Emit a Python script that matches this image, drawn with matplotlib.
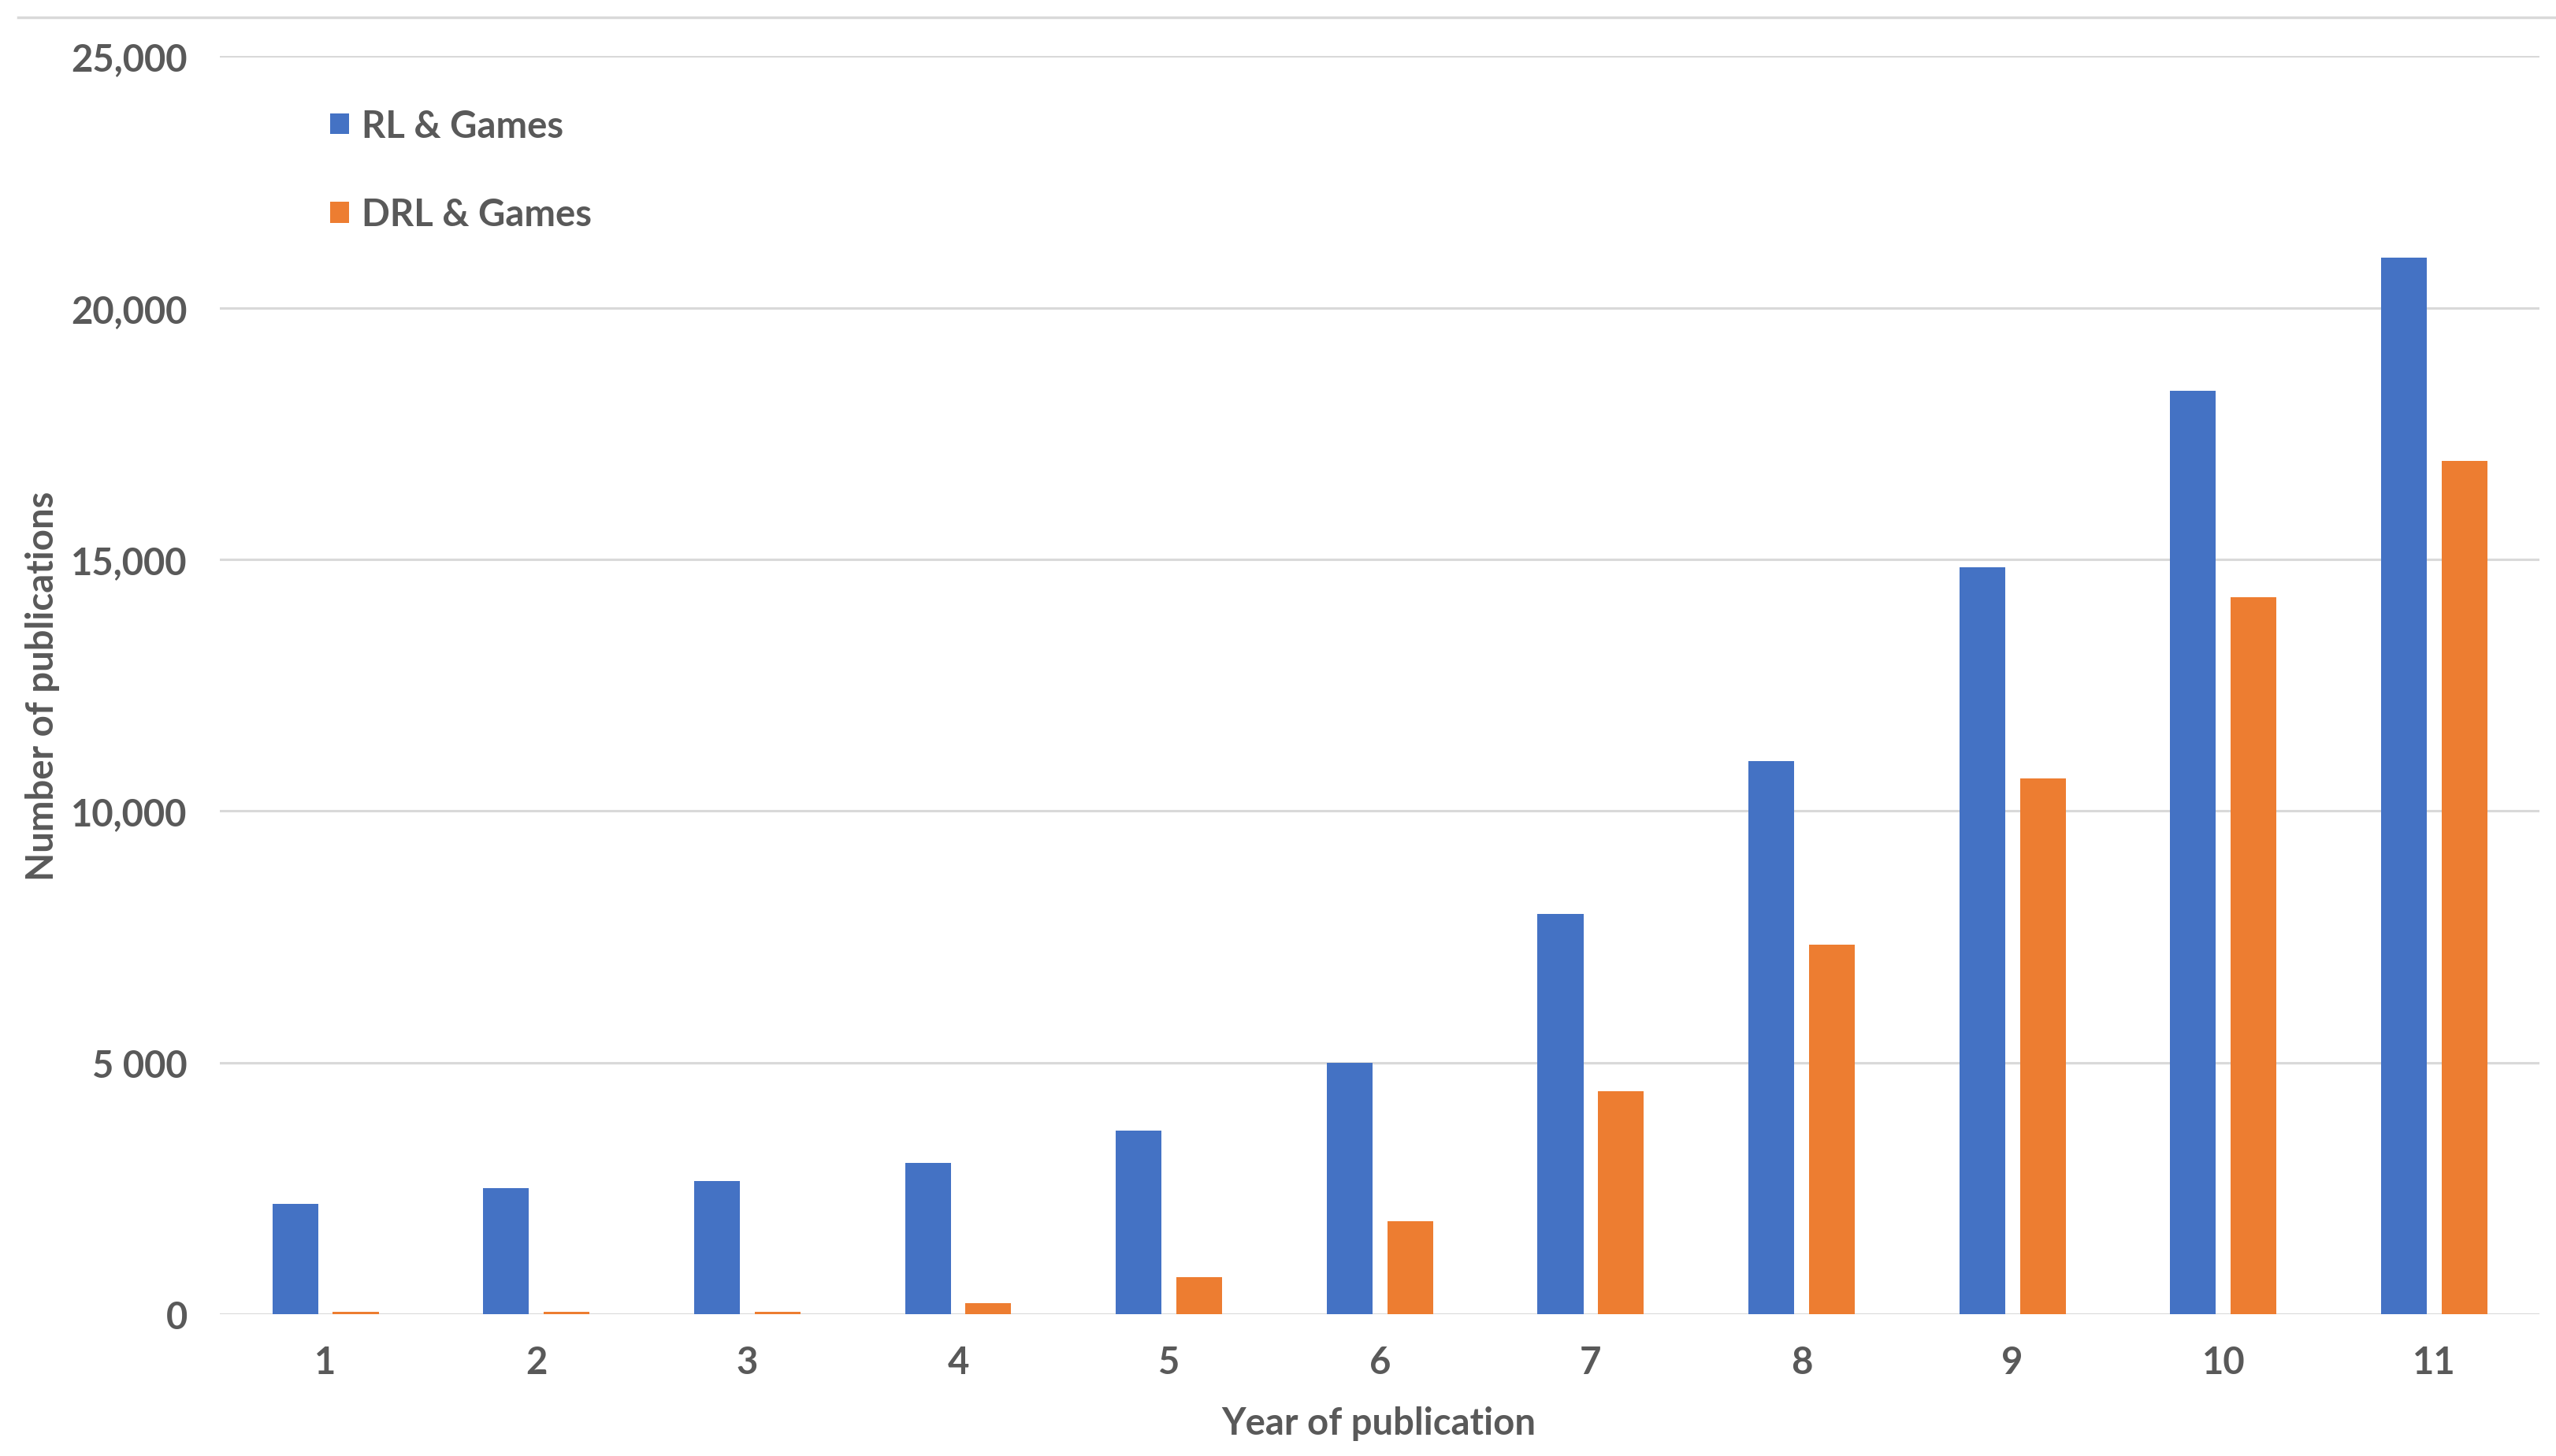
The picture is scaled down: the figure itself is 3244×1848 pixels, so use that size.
import numpy as np
import matplotlib
matplotlib.use("Agg")
import matplotlib.pyplot as plt
from matplotlib.lines import Line2D
from matplotlib.ticker import FixedLocator

# data
years = [1, 2, 3, 4, 5, 6, 7, 8, 9, 10, 11]
rl_games = [2200, 2500, 2650, 3000, 3650, 5000, 7950, 11000, 14850, 18350, 21000]
drl_games = [50, 50, 50, 220, 740, 1850, 4430, 7350, 10650, 14250, 16950]
y_ticks = [0, 5000, 10000, 15000, 20000, 25000]
y_tick_labels = ['0', '5 000', '10,000', '15,000', '20,000', '25,000']

blue = '#4472C4'
orange = '#ED7D31'
txt = '#595959'
grid = '#D9D9D9'

plt.rcParams['font.family'] = ['Lato', 'DejaVu Sans']
plt.rcParams['font.weight'] = 'bold'
fs = 34

fig = plt.figure(figsize=(32.44, 18.49), dpi=100)
ax = fig.add_axes([0.0861, 0.0973, 0.9075, 0.8636])

x = np.array(years, dtype=float)
w = 0.217
gap = 0.07
ax.bar(x - (w + gap) / 2, rl_games, width=w, color=blue, label='RL & Games', zorder=3)
ax.bar(x + (w + gap) / 2, drl_games, width=w, color=orange, label='DRL & Games', zorder=3)

ax.set_xlim(0.5, 11.5)
ax.set_ylim(0, 25000)
ax.yaxis.set_major_locator(FixedLocator(y_ticks))
ax.set_yticklabels(y_tick_labels)
ax.set_xticks(years)
ax.set_xticklabels([str(v) for v in years])
ax.tick_params(axis='both', length=0, labelsize=fs, labelcolor=txt)
ax.tick_params(axis='y', pad=30)
ax.tick_params(axis='x', pad=28)
for lab in ax.get_xticklabels() + ax.get_yticklabels():
    lab.set_fontweight('bold')

for v in y_ticks:
    ax.axhline(v, color=grid, lw=2.2, zorder=1)
for s in ax.spines.values():
    s.set_visible(False)

fig.text(0.0166, 0.529, 'Number of publications', rotation=90, ha='center', va='center',
         fontsize=fs, color=txt, fontweight='bold')
fig.text(0.5395, 0.0225, 'Year of publication', ha='center', va='center',
         fontsize=fs, color=txt, fontweight='bold')

leg = ax.legend(loc='upper left', bbox_to_anchor=(0.033, 0.985), frameon=False,
                prop={'size': fs, 'weight': 'bold'}, handlelength=0.5, handleheight=0.5,
                handletextpad=0.35, labelspacing=1.45, labelcolor=txt)

# chart frame top line
fig.add_artist(Line2D([0.007, 1.0], [0.9876, 0.9876], color=grid, lw=2.5))

fig.savefig('out.png', dpi=100, facecolor='white')
